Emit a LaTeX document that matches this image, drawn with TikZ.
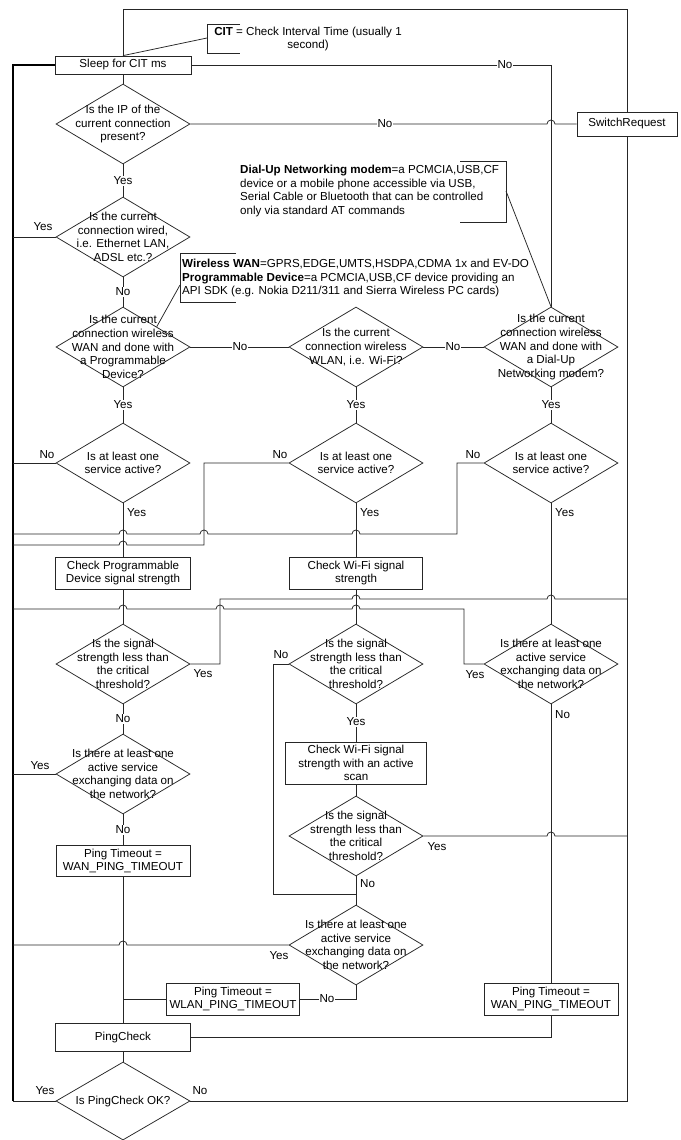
\documentclass[tikz,border=0pt]{standalone}
\usepackage{fontspec}
\setmainfont{Liberation Sans}
\usetikzlibrary{shapes.geometric}
\newcommand\dfont{\fontsize{11.6}{13.6}\selectfont}
\newcommand\hopR[2]{-- (#1-4,#2) arc[start angle=180,end angle=360,radius=4]}
\newcommand\hopL[2]{-- (#1+4,#2) arc[start angle=0,end angle=-180,radius=4]}
\begin{document}
\begin{tikzpicture}[x=1pt,y=-1pt,
  ln/.style={line width=0.75pt, draw=black!85},
  thickln/.style={line width=1.8pt, draw=black},
  dia/.style={diamond, draw=black!85, line width=0.75pt, minimum width=134, minimum height=80, inner sep=0pt},
  txt/.style={align=center, inner sep=0pt, font=\dfont},
  note/.style={align=left, inner sep=0pt, font=\dfont, anchor=west},
  box/.style={rectangle, draw=black!85, line width=0.75pt, align=center, inner sep=0pt, font=\dfont},
  lab/.style={fill=white, inner sep=1pt, font=\dfont},
  lab2/.style={inner sep=0pt, font=\dfont}]
\fill[white] (0,0) rectangle (680,1140);
\useasboundingbox (0,0) rectangle (680,1140);

% ---------- nodes ----------
\node[box, minimum width=136, minimum height=18] (sleep) at (123,65) {Sleep for CIT ms};
\node[box, minimum width=100, minimum height=24] (sw) at (627,124) {SwitchRequest};

\node[dia] (ip) at (123,124) {};
\node[txt] (ipt) at (ip) {Is the IP of the\\current connection\\present?};
\node[dia] (wired) at (123,237) {};
\node[txt] (wiredt) at (wired) {Is the current\\connection wired,\\i.e. Ethernet LAN,\\ADSL etc.?};
\node[dia] (prog) at (123,347) {};
\node[txt] (progt) at (prog) {Is the current\\connection wireless\\WAN and done with\\a Programmable\\Device?};
\node[dia] (wlan) at (356,347) {};
\node[txt] (wlant) at (wlan) {Is the current\\connection wireless\\WLAN, i.e. Wi-Fi?};
\node[dia] (dial) at (551,347) {};
\node[txt] (dialt) at (dial) {Is the current\\connection wireless\\WAN and done with\\a Dial-Up\\Networking modem?};

\node[dia] (svcL) at (123,463) {};
\node[txt] (svcLt) at (svcL) {Is at least one\\service active?};
\node[dia] (svcM) at (356,463) {};
\node[txt] (svcMt) at (svcM) {Is at least one\\service active?};
\node[dia] (svcR) at (551,463) {};
\node[txt] (svcRt) at (svcR) {Is at least one\\service active?};

\node[box, minimum width=135, minimum height=32] (chkL) at (123,573) {Check Programmable\\Device signal strength};
\node[box, minimum width=133, minimum height=32] (chkM) at (356,573) {Check Wi-Fi signal\\strength};

\node[dia] (sigL) at (123,664) {};
\node[txt] (sigLt) at (sigL) {Is the signal\\strength less than\\the critical\\threshold?};
\node[dia] (sigM) at (356,664) {};
\node[txt] (sigMt) at (sigM) {Is the signal\\strength less than\\the critical\\threshold?};
\node[dia] (exR) at (551,664) {};
\node[txt] (exRt) at (exR) {Is there at least one\\active service\\exchanging data on\\the network?};

\node[dia] (exL) at (123,774) {};
\node[txt] (exLt) at (exL) {Is there at least one\\active service\\exchanging data on\\the network?};
\node[box, minimum width=141, minimum height=42] (scan) at (356,763) {Check Wi-Fi signal\\strength with an active\\scan};
\node[dia] (sig2) at (356,836) {};
\node[txt] (sig2t) at (sig2) {Is the signal\\strength less than\\the critical\\threshold?};
\node[box, minimum width=134, minimum height=31] (wanL) at (123,861) {Ping Timeout =\\WAN\_PING\_TIMEOUT};
\node[dia] (exM) at (356,945) {};
\node[txt] (exMt) at (exM) {Is there at least one\\active service\\exchanging data on\\the network?};
\node[box, minimum width=133, minimum height=32] (wlanP) at (233,999) {Ping Timeout =\\WLAN\_PING\_TIMEOUT};
\node[box, minimum width=134, minimum height=32] (wanR) at (551,999) {Ping Timeout =\\WAN\_PING\_TIMEOUT};
\node[box, minimum width=135, minimum height=28] (ping) at (123,1037) {PingCheck};
\node[dia, minimum height=78] (ok) at (123,1101) {};
\node[txt] (okt) at (ok) {Is PingCheck OK?};

% ---------- notes ----------
\coordinate (citb) at (207,38);
\draw[ln] (240,24) -- (207,24) -- (207,53) -- (240,53);
\node[txt] (cit) at (308,39) {\textbf{CIT} = Check Interval Time (usually 1\\second)};
\draw[ln] (sleep.north) -- (citb);

\coordinate (dialb) at (506,191);
\draw[ln] (460,161) -- (506,161) -- (506,222) -- (460,222);
\node[note] (dialn) at (240,191) {\textbf{Dial-Up Networking modem}=a PCMCIA,USB,CF\\device or a mobile phone accessible via USB,\\Serial Cable or Bluetooth that can be controlled\\only via standard AT commands};
\draw[ln] (dialb) -- (dial.north);

\coordinate (wanb) at (180,285);
\draw[ln] (236,253) -- (180,253) -- (180,302) -- (236,302);
\node[note] (wann) at (182,278) {\textbf{Wireless WAN}=GPRS,EDGE,UMTS,HSDPA,CDMA 1x and EV-DO\\\textbf{Programmable Device}=a PCMCIA,USB,CF device providing an\\API SDK (e.g. Nokia D211/311 and Sierra Wireless PC cards)};
\draw[ln] (wanb) -- (prog.north east);

% ---------- frame ----------
\coordinate (ftl) at (123,9);
\coordinate (ftr) at (627,9);
\coordinate (fbr) at (627,1101);
\coordinate (flt) at (13,65);
\coordinate (flb) at (13,1101);
\draw[ln] (sw.north) -- (ftr) -- (ftl) -- (sleep.north);
\draw[ln] (ok.east) -- (fbr) -- (sw.south);
\draw[ln] (ok.west) -- (flb);
\draw[thickln] (flb) -- (flt) -- (sleep.west);

% ---------- main column connectors ----------
\draw[ln] (sleep.south) -- (ip.north);
\draw[ln] (ip.south) -- (wired.north);
\draw[ln] (wired.south) -- (prog.north);
\draw[ln] (prog.east) -- (wlan.west);
\draw[ln] (wlan.east) -- (dial.west);
\draw[ln] (prog.south) -- (svcL.north);
\draw[ln] (wlan.south) -- (svcM.north);
\draw[ln] (dial.south) -- (svcR.north);
\draw[ln] (svcL.south) -- (chkL.north);
\draw[ln] (svcM.south) -- (chkM.north);
\draw[ln] (svcR.south) -- (exR.north);
\draw[ln] (chkL.south) -- (sigL.north);
\draw[ln] (chkM.south) -- (sigM.north);
\draw[ln] (sigL.south) -- (exL.north);
\draw[ln] (exL.south) -- (wanL.north);
\draw[ln] (wanL.south) -- (ping.north);
\draw[ln] (sigM.south) -- (scan.north);
\draw[ln] (scan.south) -- (sig2.north);
\draw[ln] (sig2.south) -- (exM.north);
\draw[ln] (exR.south) -- (wanR.north);
\draw[ln] (wanR.south) -- (551,1037) -- (ping.east);
\draw[ln] (exM.south) -- (356,999) -- (wlanP.east);
\draw[ln] (wlanP.west) -- (123,999);
\draw[ln] (ping.south) -- (ok.north);

% ---------- side connectors ----------
\draw[ln] (sleep.east) -- (551,65) -- (dial.north);
\draw[ln] (ip.east) \hopR{551}{124} -- (sw.west);
\draw[ln] (wired.west) -- (13,237);
\draw[ln] (svcL.west) -- (13,463);
\draw[ln] (svcM.west) -- (204,463) -- (204,545) \hopL{123}{545} -- (13,545);
\draw[ln] (svcR.west) -- (457,463) -- (457,534) \hopL{356}{534} \hopL{204}{534} \hopL{123}{534} -- (13,534);
\draw[ln] (sigL.east) -- (220,664) -- (220,599) \hopR{356}{599} \hopR{551}{599} -- (627,599);
\draw[ln] (exR.west) -- (464,664) -- (464,609) \hopL{356}{609} \hopL{220}{609} \hopL{123}{609} -- (13,609);
\draw[ln] (sigM.west) -- (273,664) -- (273,894) -- (356,894);
\draw[ln] (exL.west) -- (13,774);
\draw[ln] (sig2.east) \hopR{551}{836} -- (627,836);
\draw[ln] (exM.west) \hopL{123}{945} -- (13,945);

% ---------- labels ----------
\node[lab] (l1) at (505,65) {No};
\node[lab] (l2) at (385,124) {No};
\node[lab] (l3) at (123,181) {Yes};
\node[lab2] (l4) at (43,227) {Yes};
\node[lab] (l5) at (123,292) {No};
\node[lab] (l6) at (240,347) {No};
\node[lab] (l7) at (453,347) {No};
\node[lab] (l8) at (123,405) {Yes};
\node[lab] (l9) at (356,405) {Yes};
\node[lab] (l10) at (551,405) {Yes};
\node[lab2] (l11) at (47,455) {No};
\node[lab2] (l12) at (280,455) {No};
\node[lab2] (l13) at (473,455) {No};
\node[lab2, anchor=west] (l14) at (127,513) {Yes};
\node[lab2, anchor=west] (l15) at (360,513) {Yes};
\node[lab2, anchor=west] (l16) at (555,513) {Yes};
\node[lab2] (l17) at (203,674) {Yes};
\node[lab2] (l18) at (475,675) {Yes};
\node[lab2] (l19) at (281,655) {No};
\node[lab] (l20) at (123,719) {No};
\node[lab] (l21) at (356,722) {Yes};
\node[lab2, anchor=west] (l22) at (555,715) {No};
\node[lab2] (l23) at (40,766) {Yes};
\node[lab] (l24) at (123,830) {No};
\node[lab2] (l25) at (437,847) {Yes};
\node[lab2, anchor=west] (l26) at (360,884) {No};
\node[lab2] (l27) at (279,956) {Yes};
\node[lab] (l28) at (327,999) {No};
\node[lab2] (l29) at (45,1091) {Yes};
\node[lab2] (l30) at (200,1091) {No};
\end{tikzpicture}
\end{document}
